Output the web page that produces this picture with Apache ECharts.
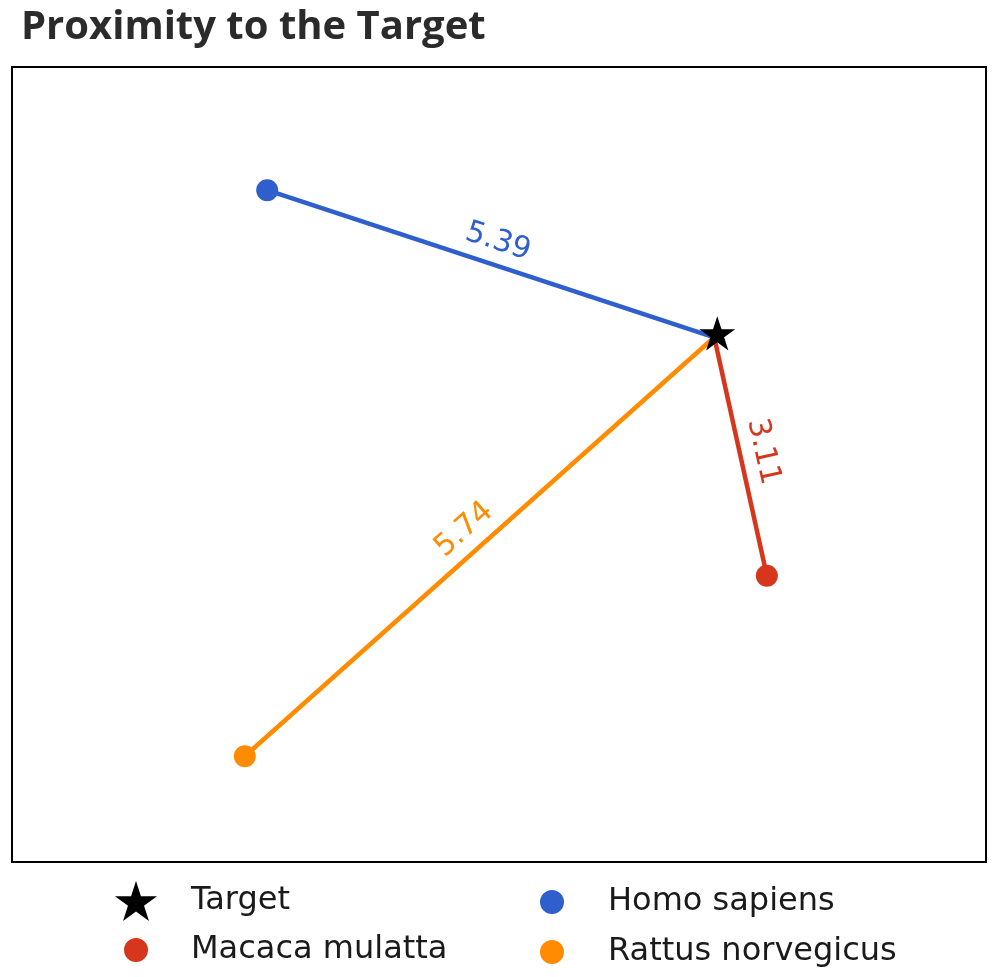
<!DOCTYPE html>
<html>
<head>
<meta charset="utf-8">
<script src="https://cdn.jsdelivr.net/npm/echarts@6/dist/echarts.min.js"></script>
<style>
html,body{margin:0;padding:0;background:#fff;}
#chart{width:1000px;height:977px;}
</style>
</head>
<body>
<div id="chart"></div>
<script>
const titleText = 'Proximity to the Target';
const targetName = 'Target';
const targetPoint = [7.21, 6.60];
const species = ['Homo sapiens', 'Macaca mulatta', 'Rattus norvegicus'];
const speciesX = [2.62, 7.75, 2.39];
const speciesY = [8.45, 3.60, 1.33];
const distances = [5.39, 3.11, 5.74];
const colors = ['#2f5fcc', '#d6361b', '#ff8c00'];
const xRange = [0, 10];
const yRange = [0, 10];

const STAR = 'path://M50,0L61.23,34.55L97.55,34.55L68.17,55.9L79.39,90.45L50,69.1L20.61,90.45L31.83,55.9L2.45,34.55L38.77,34.55Z';
const DOT = 'path://M0,0M42,40M10,20a11,11 0 1,0 22,0a11,11 0 1,0 -22,0Z';

const series = [];
species.forEach((name, i) => {
  series.push({
    type: 'lines',
    name: name,
    coordinateSystem: 'cartesian2d',
    z: 1,
    silent: true,
    lineStyle: { color: colors[i], width: 4.5, opacity: 1, curveness: 0 },
    label: {
      show: true,
      position: 'middle',
      distance: 8,
      color: colors[i],
      fontFamily: 'DejaVu Sans',
      fontSize: 30,
      formatter: p => distances[i].toFixed(2)
    },
    data: [{ coords: [[speciesX[i], speciesY[i]], targetPoint] }]
  });
});
species.forEach((name, i) => {
  series.push({
    type: 'scatter',
    name: name,
    z: 3,
    symbol: 'circle',
    symbolSize: 22,
    itemStyle: { color: colors[i], opacity: 1 },
    data: [[speciesX[i], speciesY[i]]]
  });
});
series.push({
  type: 'scatter',
  name: targetName,
  z: 5,
  symbol: STAR,
  symbolSize: 36,
  symbolKeepAspect: true,
  symbolOffset: [3, -4],
  itemStyle: { color: '#000', opacity: 1 },
  data: [targetPoint]
});

const legendText = { fontFamily: 'DejaVu Sans', fontSize: 32, color: '#1a1a1a' };

const option = {
  animation: false,
  backgroundColor: '#fff',
  title: {
    text: titleText,
    left: 16,
    top: 3,
    textStyle: { fontFamily: 'Open Sans', fontWeight: 700, fontSize: 40, color: '#2b2b2b' }
  },
  grid: {
    left: 12, right: 14, top: 67, bottom: 115,
    show: true, borderColor: '#000', borderWidth: 2, backgroundColor: '#fff'
  },
  xAxis: { type: 'value', min: xRange[0], max: xRange[1], show: false },
  yAxis: { type: 'value', min: yRange[0], max: yRange[1], show: false },
  legend: [
    {
      orient: 'vertical', left: 114, top: 881, height: 120, padding: 0,
      itemWidth: 42, itemHeight: 40, itemGap: 8,
      selectedMode: false,
      textStyle: Object.assign({ padding: [6, 0, 0, 29] }, legendText),
      data: [
        { name: targetName, icon: STAR, itemStyle: { color: '#000' } },
        { name: species[1], icon: DOT, itemStyle: { color: colors[1] } }
      ]
    },
    {
      orient: 'vertical', left: 530, top: 881, height: 120, padding: 0,
      itemWidth: 42, itemHeight: 40, itemGap: 8,
      selectedMode: false,
      textStyle: Object.assign({ padding: [6, 0, 0, 30] }, legendText),
      data: [
        { name: species[0], icon: DOT, itemStyle: { color: colors[0] } },
        { name: species[2], icon: DOT, itemStyle: { color: colors[2] } }
      ]
    }
  ],
  series: series
};

const chart = echarts.init(document.getElementById('chart'), null, { renderer: 'canvas' });
chart.setOption(option);
</script>
</body>
</html>
